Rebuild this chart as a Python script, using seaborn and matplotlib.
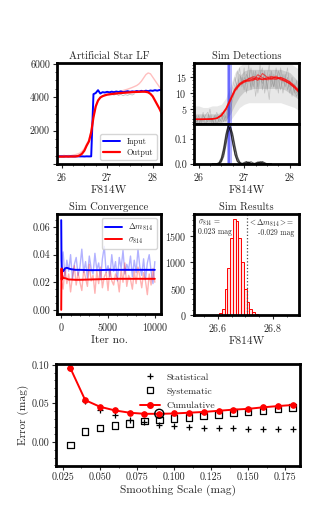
import numpy as np
import pandas as pd
import matplotlib
matplotlib.use('Agg')
import matplotlib.pyplot as plt
import seaborn as sns
from matplotlib.ticker import AutoMinorLocator, MultipleLocator, FixedLocator
from matplotlib.lines import Line2D

# ---------------- data ----------------
# Artificial Star LF
lf_mag = [25.90, 25.95, 26.00, 26.05, 26.10, 26.15, 26.20, 26.25, 26.30, 26.35,
          26.40, 26.45, 26.50, 26.55, 26.60, 26.65, 26.70, 26.75, 26.80, 26.85,
          26.90, 26.95, 27.00, 27.05, 27.10, 27.15, 27.20, 27.25, 27.30, 27.35,
          27.40, 27.45, 27.50, 27.55, 27.60, 27.65, 27.70, 27.75, 27.80, 27.85,
          27.90, 27.95, 28.00, 28.05, 28.10, 28.15, 28.20]
lf_input = [460, 455, 462, 450, 458, 452, 460, 455, 450, 462,
            455, 458, 450, 460, 455, 458, 4180, 4250, 4420, 4220,
            4300, 4280, 4320, 4290, 4330, 4300, 4340, 4310, 4350, 4300,
            4330, 4360, 4320, 4350, 4330, 4370, 4340, 4380, 4350, 4390,
            4360, 4400, 4380, 4420, 4390, 4430, 4410]
lf_output = [440, 445, 440, 445, 450, 445, 450, 450, 455, 470,
             520, 620, 800, 1100, 1350, 1900, 2800, 3450, 3800, 3980,
             4060, 4110, 4150, 4170, 4190, 4205, 4220, 4235, 4250, 4260,
             4270, 4280, 4290, 4300, 4310, 4315, 4320, 4325, 4330, 4320,
             4290, 4200, 4050, 3800, 3550, 3300, 3000]
lf_output_raw = [480, 500, 470, 520, 490, 510, 500, 530, 560, 600,
                 650, 760, 930, 1200, 1450, 1950, 2800, 3450, 3800, 3980,
                 4080, 4130, 4180, 4210, 4240, 4270, 4300, 4330, 4360, 4400,
                 4440, 4480, 4530, 4580, 4640, 4700, 4800, 4950, 5150, 5350,
                 5450, 5400, 5200, 5000, 4800, 4600, 4450]
lf_noise_mag = [27.10, 27.15, 27.20, 27.25, 27.30, 27.35, 27.40, 27.45, 27.50, 27.55, 27.60]
lf_noise = [4180, 4120, 4200, 4100, 4170, 4090, 4150, 4110, 4180, 4130, 4200]

# Sim Detections
det_mag = [25.9, 26.0, 26.1, 26.2, 26.3, 26.4, 26.5, 26.6, 26.7, 26.8, 26.9, 27.0,
           27.1, 27.2, 27.3, 27.4, 27.5, 27.6, 27.7, 27.8, 27.9, 28.0, 28.1, 28.2]
grey_outer_lo = [0, 0, 0, 0, 0, 0, 0, 0.3, 1.5, 3.5, 5.5, 6.5, 7, 7, 7, 7, 7, 7, 7, 7, 6.5, 6, 5.5, 4.5]
grey_outer_hi = [6, 6, 5.5, 5.5, 6, 6, 6.5, 8.5, 12.5, 16.5, 18.5, 19.5, 19.5, 19.5, 19.5, 19.5,
                 19.5, 19.5, 19.5, 19.5, 19.5, 19.5, 18.5, 17.5]
grey_inner_lo = [0.5, 0.5, 0.5, 0.5, 0.5, 0.5, 0.8, 1.5, 3.5, 6.5, 9, 10.5, 11, 11.5, 11.5, 11.5,
                 11.5, 11.5, 11.5, 11.5, 11, 10, 9, 8]
grey_inner_hi = [3.5, 3.5, 3.5, 3.5, 3.5, 3.5, 4, 5.5, 8.5, 12.5, 15.5, 17, 17.5, 17.5, 17.5, 17.5,
                 17.5, 17.5, 17.5, 17.5, 17, 16.5, 15, 13.5]
grey_line_1 = [2, 0, 3, 1, 4, 0, 2, 5, 1, 3, 0, 2, 4, 1, 3, 6, 9, 12, 15, 11, 16, 13, 18, 10, 15,
               12, 17, 9, 14, 19, 11, 16, 13, 8, 17, 12, 15, 10, 18, 13, 16, 11, 14, 9, 13, 10, 12]
grey_line_2 = [1, 3, 0, 2, 1, 3, 4, 1, 2, 0, 3, 1, 2, 4, 2, 4, 7, 10, 13, 17, 12, 15, 11, 16, 14,
               18, 12, 16, 10, 15, 13, 17, 11, 16, 14, 12, 18, 14, 11, 16, 12, 15, 10, 13, 11, 9, 11]
grey_line_3 = [3, 1, 2, 0, 3, 2, 1, 3, 0, 2, 4, 2, 1, 3, 1, 3, 5, 8, 11, 14, 18, 12, 15, 13, 19,
               11, 14, 17, 12, 16, 18, 10, 15, 19, 12, 16, 11, 17, 15, 10, 14, 18, 12, 15, 10, 14, 8]
red_a = [1.8, 1.8, 1.8, 1.8, 1.9, 2.1, 3.0, 5.0, 8.0, 11.0, 12.8, 13.7, 14.1, 14.3, 14.4, 14.5, 14.6, 14.7, 14.7, 14.5, 14.0, 13.2, 12.0, 10.8]
red_b = [1.7, 1.7, 1.7, 1.8, 1.8, 2.0, 2.8, 4.7, 7.6, 10.6, 12.5, 13.4, 14.6, 15.2, 14.8, 14.3, 14.9, 15.3, 14.8, 14.9, 14.4, 13.5, 12.2, 10.5]
red_c = [1.9, 1.9, 1.8, 1.9, 2.0, 2.2, 3.2, 5.3, 8.4, 11.4, 13.1, 14.0, 13.8, 14.0, 15.8, 14.9, 14.2, 14.4, 15.4, 14.2, 13.7, 13.0, 11.7, 10.2]
red_d = [1.8, 1.8, 1.9, 1.8, 1.9, 2.1, 2.9, 4.9, 7.9, 10.9, 12.6, 13.9, 14.5, 14.8, 14.0, 16.2, 15.1, 14.5, 14.3, 15.0, 14.3, 13.6, 12.4, 11.0]
red_e = [1.8, 1.7, 1.8, 1.8, 1.9, 2.1, 3.1, 5.1, 8.1, 11.2, 13.0, 13.5, 13.9, 14.6, 14.7, 14.2, 14.4, 15.0, 14.9, 14.6, 13.8, 12.9, 11.8, 10.4]
gauss_mag = [26.30, 26.35, 26.40, 26.45, 26.50, 26.55, 26.60, 26.65, 26.70, 26.75, 26.80, 26.85,
             26.90, 26.95, 27.00, 27.05, 27.10, 27.15, 27.20, 27.25, 27.30, 27.35, 27.40, 27.45,
             27.50, 27.55, 27.60]
gauss_a = [0, 0, 0, 0.002, 0.012, 0.04, 0.09, 0.14, 0.148, 0.11, 0.06, 0.022, 0.006, 0.001, 0, 0.004, 0.008, 0.003, 0, 0.002, 0.006, 0.009, 0.004, 0, 0, 0, 0]
gauss_b = [0, 0, 0, 0.004, 0.018, 0.055, 0.11, 0.152, 0.135, 0.085, 0.04, 0.012, 0.003, 0, 0.003, 0.007, 0.002, 0, 0, 0, 0.003, 0.007, 0.010, 0.005, 0.001, 0, 0]
gauss_c = [0, 0, 0.001, 0.006, 0.025, 0.065, 0.12, 0.155, 0.13, 0.08, 0.035, 0.01, 0.002, 0, 0, 0, 0.005, 0.009, 0.004, 0, 0, 0.002, 0.006, 0.003, 0, 0, 0]
gauss_d = [0, 0, 0, 0.001, 0.008, 0.03, 0.075, 0.128, 0.15, 0.12, 0.072, 0.03, 0.009, 0.002, 0.006, 0.01, 0.005, 0.001, 0, 0.004, 0.008, 0.004, 0, 0, 0, 0, 0]
det_band = (26.62, 26.73)
det_center = 26.675

# Sim Convergence
conv_iter = list(range(0, 10001, 200))
conv_dm_raw = [0.030, 0.042, 0.024, 0.036, 0.028, 0.040, 0.022, 0.033, 0.038, 0.025,
               0.031, 0.044, 0.027, 0.035, 0.023, 0.039, 0.030, 0.026, 0.041, 0.029,
               0.034, 0.022, 0.037, 0.046, 0.027, 0.032, 0.024, 0.040, 0.028, 0.035,
               0.021, 0.038, 0.030, 0.043, 0.026, 0.033, 0.029, 0.039, 0.024, 0.036,
               0.027, 0.044, 0.031, 0.025, 0.037, 0.022, 0.034, 0.040, 0.028, 0.019, 0.035]
conv_sig_raw = [0.022, 0.015, 0.030, 0.019, 0.026, 0.013, 0.024, 0.032, 0.018, 0.027,
                0.020, 0.014, 0.029, 0.023, 0.017, 0.033, 0.021, 0.025, 0.012, 0.028,
                0.019, 0.031, 0.016, 0.024, 0.027, 0.014, 0.030, 0.021, 0.018, 0.026,
                0.023, 0.013, 0.029, 0.020, 0.034, 0.017, 0.025, 0.022, 0.015, 0.028,
                0.019, 0.031, 0.024, 0.016, 0.027, 0.021, 0.011, 0.026, 0.018, 0.030, 0.020]
conv_mean_iter = [0, 30, 60, 100, 150, 200, 300, 400, 600, 800, 1000, 1500, 2000, 3000, 4000,
                  5000, 6000, 7000, 8000, 9000, 10000]
conv_dm_mean = [0.065, 0.036, 0.031, 0.029, 0.028, 0.028, 0.029, 0.030, 0.0305, 0.030, 0.0295,
                0.029, 0.029, 0.0288, 0.0288, 0.029, 0.029, 0.029, 0.029, 0.029, 0.029]
conv_sig_mean = [0.0, 0.030, 0.022, 0.025, 0.024, 0.023, 0.023, 0.023, 0.0225, 0.022, 0.022,
                 0.0218, 0.0218, 0.022, 0.0222, 0.0224, 0.0225, 0.0225, 0.0225, 0.0225, 0.0225]

# Sim Results
res_bin_edges = [26.605, 26.615, 26.625, 26.635, 26.645, 26.655, 26.665, 26.675, 26.685,
                 26.695, 26.705, 26.715, 26.725, 26.735, 26.745]
res_counts = [40, 110, 490, 900, 1460, 1815, 1790, 1470, 1000, 500, 250, 110, 60, 25]
res_mean_line = 26.705
res_sigma_text = "$\\sigma_{814}$ =\n0.023 mag"
res_dm_text = "$<\\Delta m_{814}>$=\n-0.029 mag"

# Smoothing scale
smooth = [0.03, 0.04, 0.05, 0.06, 0.07, 0.08, 0.09, 0.10, 0.11, 0.12, 0.13, 0.14, 0.15, 0.16, 0.17, 0.18]
err_stat = [0.0957, 0.053, 0.042, 0.035, 0.029, 0.026, 0.022, 0.021, 0.0195, 0.0185, 0.0177,
            0.0177, 0.017, 0.0168, 0.0164, 0.0164]
err_sys = [-0.004, 0.0134, 0.018, 0.0216, 0.024, 0.027, 0.0285, 0.0306, 0.032, 0.034, 0.036,
           0.038, 0.0397, 0.041, 0.043, 0.045]
err_cum = [0.0957, 0.0543, 0.0457, 0.041, 0.038, 0.0366, 0.0366, 0.037, 0.038, 0.039, 0.0405,
           0.042, 0.043, 0.045, 0.0466, 0.048]
best_smooth = 0.09
best_err = 0.0366

# ---------------- style ----------------
sns.set_style('ticks')
plt.rcParams.update({
    'font.family': ['cmr10', 'DejaVu Serif'],
    'mathtext.fontset': 'cm',
    'axes.unicode_minus': False,
    'axes.formatter.use_mathtext': True,
    'axes.linewidth': 2.0,
    'axes.edgecolor': 'black',
    'xtick.direction': 'out',
    'ytick.direction': 'out',
    'xtick.major.size': 3, 'ytick.major.size': 3,
    'xtick.minor.size': 1.5, 'ytick.minor.size': 1.5,
    'xtick.major.width': 0.8, 'ytick.major.width': 0.8,
    'xtick.minor.width': 0.6, 'ytick.minor.width': 0.6,
    'xtick.minor.visible': True, 'ytick.minor.visible': True,
    'xtick.labelsize': 7.2, 'ytick.labelsize': 7.2,
    'axes.labelsize': 8.2, 'axes.titlesize': 7.6,
    'xtick.major.pad': 2, 'ytick.major.pad': 2,
    'axes.titlepad': 3, 'axes.labelpad': 1.5,
})

fig = plt.figure(figsize=(3.32, 5.32), dpi=100)
ax1 = fig.add_axes([0.1717, 0.6917, 0.313, 0.190])
ax2a = fig.add_axes([0.5843, 0.7669, 0.316, 0.1147])
ax2b = fig.add_axes([0.5843, 0.6917, 0.316, 0.0752])
ax3 = fig.add_axes([0.1717, 0.4098, 0.313, 0.188])
ax4 = fig.add_axes([0.5843, 0.4079, 0.316, 0.190])
ax5 = fig.add_axes([0.1687, 0.124, 0.735, 0.1917])

# ---- Artificial Star LF ----
sns.lineplot(x=lf_mag, y=lf_output_raw, ax=ax1, color='red', alpha=0.25, lw=1.0)
sns.lineplot(x=lf_noise_mag, y=lf_noise, ax=ax1, color='grey', alpha=0.5, lw=0.6)
sns.lineplot(x=lf_mag, y=lf_input, ax=ax1, color='blue', lw=1.4, label='Input')
sns.lineplot(x=lf_mag, y=lf_output, ax=ax1, color='red', lw=1.6, label='Output')
ax1.set_xlim(25.9, 28.18)
ax1.set_ylim(0, 6050)
ax1.xaxis.set_major_locator(MultipleLocator(1))
ax1.yaxis.set_major_locator(MultipleLocator(2000))
ax1.yaxis.set_major_formatter(matplotlib.ticker.FuncFormatter(lambda v, p: '' if v == 0 else f'{int(v)}'))
ax1.xaxis.set_minor_locator(AutoMinorLocator(4))
ax1.yaxis.set_minor_locator(AutoMinorLocator(4))
ax1.set_title('Artificial Star LF')
ax1.set_xlabel('F814W')
ax1.legend(loc='lower right', fontsize=6, frameon=True, handlelength=2.0, borderpad=0.4,
           labelspacing=0.3, fancybox=True, edgecolor='0.8')

# ---- Sim Detections ----
ax2a.fill_between(det_mag, grey_outer_lo, grey_outer_hi, color='0.55', alpha=0.2, lw=0)
ax2a.fill_between(det_mag, grey_inner_lo, grey_inner_hi, color='0.45', alpha=0.25, lw=0)
for g in (grey_line_1, grey_line_2, grey_line_3):
    sns.lineplot(x=lf_mag, y=g, ax=ax2a, color='0.4', alpha=0.3, lw=0.5)
ax2a.axvspan(*det_band, color='blue', alpha=0.3, lw=0)
ax2a.axvspan(det_center - 0.02, det_center + 0.02, color='blue', alpha=0.4, lw=0)
for r in (red_a, red_b, red_c, red_d, red_e):
    sns.lineplot(x=det_mag, y=r, ax=ax2a, color='red', alpha=0.6, lw=0.8)
ax2a.set_xlim(25.9, 28.2)
ax2a.set_ylim(0.3, 19.5)
ax2a.yaxis.set_major_locator(FixedLocator([5, 10, 15]))
ax2a.yaxis.set_minor_locator(MultipleLocator(1))
ax2a.xaxis.set_major_locator(MultipleLocator(1))
ax2a.xaxis.set_minor_locator(AutoMinorLocator(4))
ax2a.tick_params(axis='x', labelbottom=False, length=0, which='both')
ax2a.set_title('Sim Detections')

ax2b.axvspan(*det_band, color='blue', alpha=0.3, lw=0)
ax2b.axvspan(det_center - 0.02, det_center + 0.02, color='blue', alpha=0.4, lw=0)
for g in (gauss_a, gauss_b, gauss_c, gauss_d):
    sns.lineplot(x=gauss_mag, y=g, ax=ax2b, color='black', alpha=0.6, lw=0.8)
ax2b.set_xlim(25.9, 28.2)
ax2b.set_ylim(0, 0.16)
ax2b.yaxis.set_major_locator(FixedLocator([0.0, 0.1]))
ax2b.yaxis.set_major_formatter(matplotlib.ticker.FormatStrFormatter('%.1f'))
ax2b.yaxis.set_minor_locator(MultipleLocator(0.02))
ax2b.xaxis.set_major_locator(MultipleLocator(1))
ax2b.xaxis.set_minor_locator(AutoMinorLocator(4))
ax2b.set_xlabel('F814W')

# ---- Sim Convergence ----
sns.lineplot(x=conv_iter, y=conv_dm_raw, ax=ax3, color='blue', alpha=0.3, lw=1.0)
sns.lineplot(x=conv_iter, y=conv_sig_raw, ax=ax3, color='red', alpha=0.3, lw=1.0)
sns.lineplot(x=conv_mean_iter, y=conv_dm_mean, ax=ax3, color='blue', lw=1.4, label='$\\Delta m_{814}$')
sns.lineplot(x=conv_mean_iter, y=conv_sig_mean, ax=ax3, color='red', lw=1.4, label='$\\sigma_{814}$')
ax3.set_xlim(-450, 10650)
ax3.set_ylim(-0.003, 0.0695)
ax3.xaxis.set_major_locator(MultipleLocator(5000))
ax3.xaxis.set_minor_locator(AutoMinorLocator(5))
ax3.yaxis.set_major_locator(MultipleLocator(0.02))
ax3.yaxis.set_major_formatter(matplotlib.ticker.FormatStrFormatter('%.2f'))
ax3.yaxis.set_minor_locator(AutoMinorLocator(4))
ax3.set_title('Sim Convergence')
ax3.set_xlabel('Iter no.')
ax3.legend(loc='upper right', fontsize=6, frameon=True, handlelength=2.0, borderpad=0.4,
           labelspacing=0.3, fancybox=True, edgecolor='0.8')

# ---- Sim Results ----
res_centers = [(res_bin_edges[i] + res_bin_edges[i + 1]) / 2 for i in range(len(res_counts))]
sns.histplot(x=res_centers, weights=res_counts, bins=res_bin_edges, ax=ax4,
             color='red', linewidth=0.7, shrink=1.0)
for p in ax4.patches:
    p.set_alpha(None)
    p.set_facecolor((1, 0, 0, 0.12))
    p.set_edgecolor('red')
    p.set_linewidth(0.7)
ax4.axvline(res_mean_line, color='0.3', ls=':', lw=0.9)
ax4.set_xlim(26.513, 26.895)
ax4.set_ylim(0, 1920)
ax4.xaxis.set_major_locator(MultipleLocator(0.2))
ax4.xaxis.set_minor_locator(AutoMinorLocator(4))
ax4.yaxis.set_major_locator(MultipleLocator(500))
ax4.yaxis.set_minor_locator(AutoMinorLocator(5))
ax4.set_ylabel('')
ax4.set_title('Sim Results')
ax4.set_xlabel('F814W')
ax4.text(0.04, 0.96, res_sigma_text, transform=ax4.transAxes, fontsize=5.5, va='top', ha='left',
         linespacing=0.9)
ax4.text(0.96, 0.96, res_dm_text, transform=ax4.transAxes, fontsize=5.5, va='top', ha='right',
         linespacing=0.9, multialignment='right')

# ---- Error vs Smoothing Scale ----
sns.lineplot(x=smooth, y=err_cum, ax=ax5, color='red', lw=1.4, marker='o', markersize=4,
             markeredgecolor='red')
sns.scatterplot(x=smooth, y=err_stat, ax=ax5, marker='+', color='black', s=25, linewidth=0.9)
sns.scatterplot(x=smooth, y=err_sys, ax=ax5, marker='s', facecolor='none', edgecolor='black',
                s=22, linewidth=0.9)
ax5.scatter([best_smooth], [best_err], s=42, facecolors='none', edgecolors='black', linewidths=1.0,
            zorder=5)
ax5.set_xlim(0.0203, 0.185)
ax5.set_ylim(-0.031, 0.101)
ax5.xaxis.set_major_locator(MultipleLocator(0.025))
ax5.xaxis.set_major_formatter(matplotlib.ticker.FormatStrFormatter('%.3f'))
ax5.xaxis.set_minor_locator(AutoMinorLocator(2))
ax5.yaxis.set_major_locator(MultipleLocator(0.05))
ax5.yaxis.set_major_formatter(matplotlib.ticker.FormatStrFormatter('%.2f'))
ax5.yaxis.set_minor_locator(AutoMinorLocator(5))
ax5.set_xlabel('Smoothing Scale (mag)')
ax5.set_ylabel('Error (mag)')
handles = [Line2D([], [], ls='none', marker='+', color='black', markersize=5, mew=0.9),
           Line2D([], [], ls='none', marker='s', mfc='none', mec='black', markersize=4.5, mew=0.9),
           Line2D([], [], color='red', lw=1.4, marker='o', markersize=4)]
ax5.legend(handles, ['Statistical', 'Systematic', 'Cumulative'], loc='upper left',
           bbox_to_anchor=(0.31, 1.0), frameon=False, fontsize=7, handlelength=2.0,
           labelspacing=0.55, handletextpad=0.7)

fig.savefig('out.png', dpi=100)
